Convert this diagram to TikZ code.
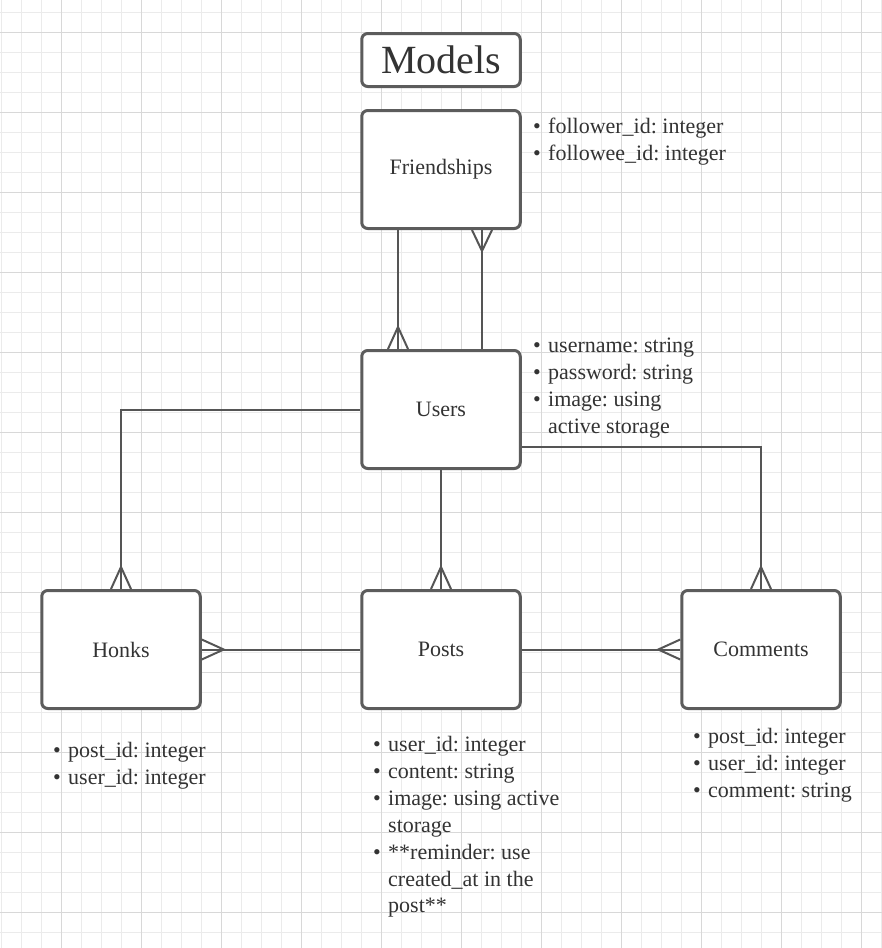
\documentclass[tikz,border=0pt]{standalone}
\usepackage{fontspec}
\setmainfont{Liberation Serif}
\usetikzlibrary{calc}
\definecolor{gridminor}{HTML}{EBEBEB}
\definecolor{gridmajor}{HTML}{D8D8D8}
\definecolor{boxc}{HTML}{5C5C5C}
\definecolor{linec}{HTML}{555555}
\definecolor{txt}{HTML}{333333}
\frenchspacing

% one attribute list: name, x of text, baseline of first line, items b/text (bulleted) or n/text (continuation)
\newcommand\attrlist[4]{%
  \foreach \k/\t [count=\i] in {#4} {
    \node[attr, anchor=base west] (#1\i) at (#2, {#3+26.9*(\i-1)}) {\t};
    \if\k b
      \node[attr, anchor=base] (#1b\i) at ($(#1\i.base west)+(-11,0)$) {•};
    \fi
  }%
}

\begin{document}
\begin{tikzpicture}[x=1pt, y=-1pt,
  ent/.style={draw=boxc, line width=3pt, rounded corners=6pt, fill=white,
    minimum width=158.5pt, minimum height=118pt, inner sep=0pt, text=txt,
    font=\fontsize{22}{27}\selectfont},
  attr/.style={inner sep=0pt, text=txt, font=\fontsize{22}{27}\selectfont},
  conn/.style={draw=linec, line width=2pt},
  foot/.style={draw=linec, line width=2pt, line join=miter}]

\useasboundingbox (0,0) rectangle (882,948);
\fill[white] (0,0) rectangle (882,948);

% background grid
\foreach \gx in {0,...,44} \draw[gridminor, line width=1pt] ({1+20*\gx},0) -- ({1+20*\gx},948);
\foreach \gy in {0,...,46} \draw[gridminor, line width=1pt] (0,{12+20*\gy}) -- (882,{12+20*\gy});
\foreach \gx in {0,...,10} \draw[gridmajor, line width=1pt] ({61+80*\gx},0) -- ({61+80*\gx},948);
\foreach \gy in {0,...,11} \draw[gridmajor, line width=1pt] (0,{32+80*\gy}) -- (882,{32+80*\gy});

% entities
\node[ent, minimum height=53pt, font=\fontsize{40}{48}\selectfont] (models) at (441,60) {Models};
\node[ent] (fr) at (441,169.5) {Friendships};
\node[ent] (us) at (441,409.5) {Users};
\node[ent] (ho) at (121,649.5) {Honks};
\node[ent] (po) at (441,649.5) {Posts};
\node[ent] (co) at (761,649.5) {Comments};

% Friendships -- Users (two relations)
\coordinate (f1a) at ($(fr.south)+(-43,0)$);
\coordinate (f1b) at ($(us.north)+(-43,0)$);
\draw[conn] (f1a) -- (f1b);
\draw[foot] ($(f1b)+(-10,0)$) -- ($(f1b)+(0,-22)$) -- ($(f1b)+(10,0)$);

\coordinate (f2a) at ($(fr.south)+(41,0)$);
\coordinate (f2b) at ($(us.north)+(41,0)$);
\draw[conn] (f2b) -- (f2a);
\draw[foot] ($(f2a)+(-10,0)$) -- ($(f2a)+(0,21)$) -- ($(f2a)+(10,0)$);

% Users -- Honks
\draw[conn] (us.west) -| (ho.north);
\draw[foot] ($(ho.north)+(-10,0)$) -- ($(ho.north)+(0,-22)$) -- ($(ho.north)+(10,0)$);

% Users -- Posts
\draw[conn] (us.south) -- (po.north);
\draw[foot] ($(po.north)+(-10,0)$) -- ($(po.north)+(0,-22)$) -- ($(po.north)+(10,0)$);

% Users -- Comments
\coordinate (uc) at ($(us.east)+(0,37.5)$);
\draw[conn] (uc) -| (co.north);
\draw[foot] ($(co.north)+(-10,0)$) -- ($(co.north)+(0,-22)$) -- ($(co.north)+(10,0)$);

% Posts -- Honks
\draw[conn] (po.west) -- (ho.east);
\draw[foot] ($(ho.east)+(0,-10)$) -- ($(ho.east)+(22,0)$) -- ($(ho.east)+(0,10)$);

% Posts -- Comments
\draw[conn] (po.east) -- (co.west);
\draw[foot] ($(co.west)+(0,-10)$) -- ($(co.west)+(-22,0)$) -- ($(co.west)+(0,10)$);

% attribute lists
\attrlist{fa}{548}{133.5}{b/{follower\_id: integer}, b/{followee\_id: integer}}
\attrlist{ua}{548}{352.5}{b/{username: string}, b/{password: string}, b/{image: using}, n/{active storage}}
\attrlist{ha}{68}{757.5}{b/{post\_id: integer}, b/{user\_id: integer}}
\attrlist{pa}{388}{751.5}{b/{user\_id: integer}, b/{content: string}, b/{image: using active}, n/{storage}, b/{**reminder: use}, n/{created\_at in the}, n/{post**}}
\attrlist{ca}{708}{743.5}{b/{post\_id: integer}, b/{user\_id: integer}, b/{comment: string}}

\end{tikzpicture}
\end{document}
